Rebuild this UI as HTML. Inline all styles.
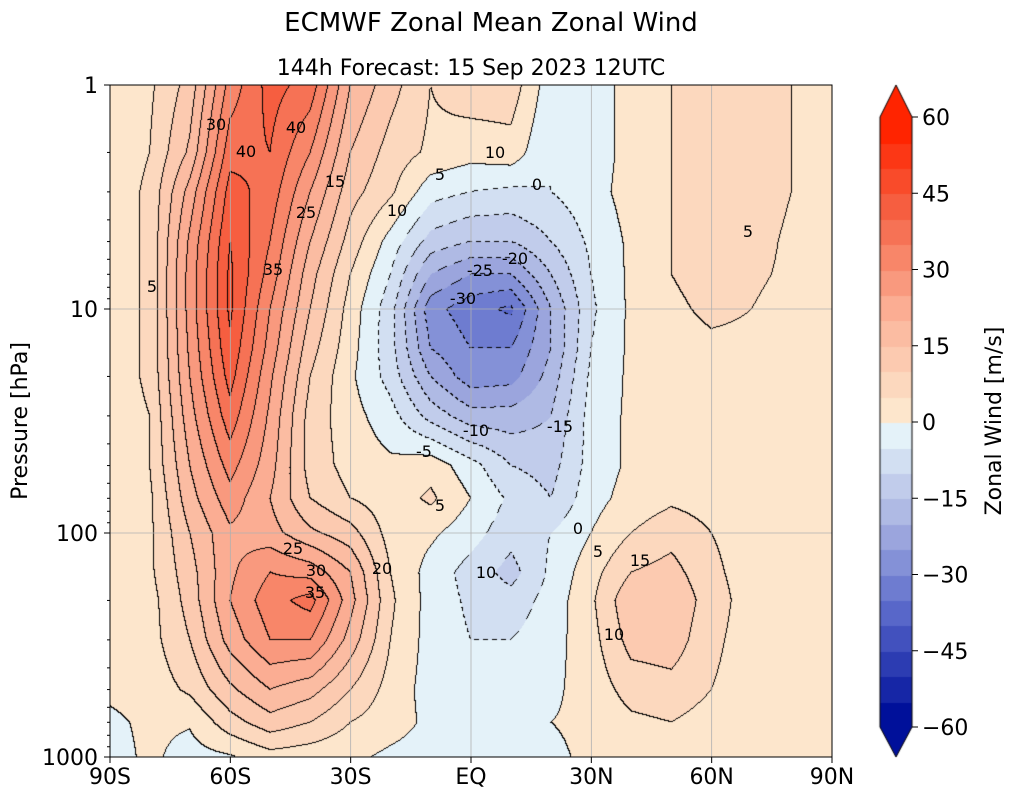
<!DOCTYPE html>
<html><head><meta charset="utf-8">
<style>
body{margin:0;background:#fff;font-family:"DejaVu Sans","Liberation Sans",sans-serif;}
#wrap{position:relative;width:1015px;height:800px;overflow:hidden;}
canvas{position:absolute;left:0;top:0;}
svg{position:absolute;left:0;top:0;font-family:"DejaVu Sans","Liberation Sans",sans-serif;}
</style></head>
<body>
<div id="wrap">
<canvas id="cv" width="1015" height="800"></canvas>
<svg id="sv" width="1015" height="800"></svg>
</div>
<script>
const lats=[-90,-80,-70,-60,-50,-40,-30,-20,-10,0,10,20,30,40,50,60,70,80,90];
const pLevels=[1,2,3,5,7,10,15,20,30,50,70,100,150,200,300,500,700,1000];
const windP1=[2,4,12,32,42,38,20,12,5,8,8,-3,-3,2,5,8,8,5,2];
const windP2=[2,5,16,38,40,30,15,8,4,2,3,-5,-3,2,5,8,8,5,2];
const windP3=[2,6,22,42,38,25,12,6,-3,-5,-6,-5,-2,2,5,8,8,5,2];
const windP5=[2,6,26,45,35,20,8,-2,-12,-15,-15,-10,-4,1,5,8,7,4,2];
const windP7=[2,6,27,46,33,17,5,-5,-20,-25,-25,-15,-5,1,5,7,6,4,2];
const windP10=[2,6,27,46,30,15,3,-8,-28,-33,-36,-20,-6,1,4,6,5,3,2];
const windP15=[2,6,26,44,28,12,2,-8,-25,-30,-30,-20,-5,1,3,4,4,3,2];
const windP20=[2,6,25,42,26,10,1,-7,-20,-28,-27,-18,-4,1,3,3,3,3,2];
const windP30=[2,5,23,38,24,8,2,-3,-12,-18,-18,-15,-3,1,2,2,2,2,1];
const windP50=[2,5,20,32,22,8,3,1,3,-3,-10,-12,-3,1,2,2,2,2,1];
const windP70=[2,4,18,28,20,10,5,2,6,0,-6,-10,-2,2,4,3,2,2,1];
const windP100=[2,4,15,24,22,16,12,3,1,-3,-8,-5,0,5,8,5,3,2,0.5];
const windP150=[2,4,13,24,30,28,20,5,-2,-7,-12,-4,3,10,12,6,3,2,0.5];
const windP200=[1,3,12,25,33,37,22,6,-2,-6,-8,-3,4,14,15,7,3,2,0.5];
const windP300=[1,3,10,22,30,30,18,5,-2,-5,-5,-2,3,12,13,6,3,2,0.5];
const windP500=[1,2,6,14,20,17,10,3,-2,-4,-3,-1,2,7,8,5,3,2,0.5];
const windP700=[-1,1,0.5,8,13,10,5,2,-1,-3,-2,0,1,4,5,3,2,1,0.5];
const windP1000=[-2,1,-2,-0.5,3,2,1,-1,-2,-4,-2,-1,1,1,2,1,1,1,0];
const grid=[windP1,windP2,windP3,windP5,windP7,windP10,windP15,windP20,windP30,windP50,windP70,windP100,windP150,windP200,windP300,windP500,windP700,windP1000];
const xTicks=[-90,-60,-30,0,30,60,90];
const xTickLabels=["90S","60S","30S","EQ","30N","60N","90N"];
const yTicks=[1,10,100,1000];
const cbTicks=[60,45,30,15,0,-15,-30,-45,-60];
const cbTickLabels=["60","45","30","15","0","\u221215","\u221230","\u221245","\u221260"];

const X0=110,X1=832,Y0=85,Y1=757;
const xS=l=>X0+(l+90)/180*(X1-X0);
const yS=p=>Y0+Math.log10(p)/3*(Y1-Y0);
const CBT=117,CBB=727;
const cbY=v=>CBB-(v+60)/120*(CBB-CBT);

function lerpC(a,b,t){return a.map((x,i)=>Math.round(x+(b[i]-x)*t));}
function ramp(stops,t){for(let i=0;i<stops.length-1;i++){if(t<=stops[i+1][0]){const u=(t-stops[i][0])/(stops[i+1][0]-stops[i][0]);return lerpC(stops[i][1],stops[i+1][1],u);}}return stops[stops.length-1][1];}
const posStops=[[0,[253,230,204]],[0.35,[251,176,150]],[0.7,[245,100,70]],[1,[255,36,0]]];
const negStops=[[0,[228,242,249]],[0.3,[170,180,226]],[0.65,[85,100,200]],[1,[0,16,154]]];
function binColor(b){
  if(b>=0){return ramp(posStops,Math.min(b,11)/11);}
  return ramp(negStops,Math.min(-b-1,11)/11);
}
function val(lat,p){
  let fi=(lat+90)/10; fi=Math.max(0,Math.min(17.9999,fi));
  const i=Math.floor(fi),u=fi-i;
  const lp=Math.log10(p);
  let j=0; while(j<pLevels.length-2&&Math.log10(pLevels[j+1])<lp)j++;
  const a=Math.log10(pLevels[j]),b=Math.log10(pLevels[j+1]);
  const v=Math.max(0,Math.min(1,(lp-a)/(b-a)));
  const r0=grid[j],r1=grid[j+1];
  return (r0[i]*(1-u)+r0[i+1]*u)*(1-v)+(r1[i]*(1-u)+r1[i+1]*u)*v;
}
const cv=document.getElementById('cv'),ctx=cv.getContext('2d');
const W=X1-X0,H=Y1-Y0;
const img=ctx.createImageData(W,H);
const bins=new Int16Array(W*H);
for(let y=0;y<H;y++){const p=Math.pow(10,(y+0.5)/H*3);for(let x=0;x<W;x++){const lat=-90+(x+0.5)/W*180;const v=val(lat,p);bins[y*W+x]=Math.floor(v/5);}}
for(let y=0;y<H;y++)for(let x=0;x<W;x++){
  const k=y*W+x,b=bins[k];let c=binColor(b);
  let edge=false;
  if(x<W-1&&bins[k+1]!==b)edge=true;
  if(y<H-1&&bins[k+W]!==b)edge=true;
  if(edge){const lv=Math.max(b,(x<W-1?bins[k+1]:b),(y<H-1?bins[k+W]:b))*5;
    if(lv>=0||((x+y)%9)<5)c=[0,0,0];}
  img.data[k*4]=c[0];img.data[k*4+1]=c[1];img.data[k*4+2]=c[2];img.data[k*4+3]=255;
}
ctx.putImageData(img,X0,Y0);
for(let b=-12;b<12;b++){const c=binColor(b);ctx.fillStyle=`rgb(${c})`;const yt=cbY(b*5+5),yb=cbY(b*5);ctx.fillRect(880,Math.floor(yt),32,Math.ceil(yb-yt)+1);}
ctx.fillStyle='rgb(255,36,0)';ctx.beginPath();ctx.moveTo(880,CBT);ctx.lineTo(896,85);ctx.lineTo(912,CBT);ctx.fill();
ctx.fillStyle='rgb(0,16,154)';ctx.beginPath();ctx.moveTo(880,CBB);ctx.lineTo(896,757);ctx.lineTo(912,CBB);ctx.fill();
ctx.strokeStyle='#000';ctx.lineWidth=1;ctx.beginPath();ctx.moveTo(880,CBT);ctx.lineTo(896,85);ctx.lineTo(912,CBT);ctx.lineTo(912,CBB);ctx.lineTo(896,757);ctx.lineTo(880,CBB);ctx.closePath();ctx.stroke();

const sv=document.getElementById('sv');const NS='http://www.w3.org/2000/svg';
function mk(tag,attrs,txt){const e=document.createElementNS(NS,tag);for(const k in attrs)e.setAttribute(k,attrs[k]);if(txt!==undefined)e.textContent=txt;sv.appendChild(e);return e;}
xTicks.forEach((t,i)=>{const x=xS(t);
 const g=mk('line',{x1:x,x2:x,y1:Y0,y2:Y1,stroke:'#b0b0b0','stroke-width':0.8});
 
 mk('line',{x1:x,x2:x,y1:Y1,y2:Y1+6,stroke:'#000'});
 const tx=mk('text',{x:x,y:784,'font-size':22,'text-anchor':'middle'},xTickLabels[i]);
 
});
yTicks.forEach(t=>{const y=yS(t);
 const g=mk('line',{x1:X0,x2:X1,y1:y,y2:y,stroke:'#b0b0b0','stroke-width':0.8});
 
 mk('line',{x1:X0-6,x2:X0,y1:y,y2:y,stroke:'#000'});
 const tx=mk('text',{x:X0-12,y:y+8,'font-size':22,'text-anchor':'end'},String(t));
 
});
for(let d=0;d<3;d++)for(let m=2;m<10;m++){const y=yS(m*Math.pow(10,d));mk('line',{x1:X0-3,x2:X0,y1:y,y2:y,stroke:'#000'});}
const fr=mk('rect',{x:X0,y:Y0,width:W,height:H,fill:'none',stroke:'#000','stroke-width':1});

cbTicks.forEach((t,i)=>{const y=cbY(t);mk('line',{x1:912,x2:918,y1:y,y2:y,stroke:'#000'});
 const tx=mk('text',{x:922,y:y+8,'font-size':22},cbTickLabels[i]);
 });
let e;
e=mk('text',{x:491,y:31,'font-size':26,'text-anchor':'middle'},'ECMWF Zonal Mean Zonal Wind');
e=mk('text',{x:471,y:75,'font-size':22,'text-anchor':'middle','xml:space':'preserve'},'144h  Forecast:  15 Sep 2023  12UTC');
e=mk('text',{x:27,y:421,'font-size':22,'text-anchor':'middle',transform:'rotate(-90 27 421)'},'Pressure [hPa]');
e=mk('text',{x:1001,y:421,'font-size':22,'text-anchor':'middle',transform:'rotate(-90 1001 421)'},'Zonal Wind [m/s]');
const cl=[[216,130,'30'],[246,157,'40'],[296,133,'40'],[335,187,'15'],[306,218,'25'],[273,275,'35'],[152,292,'5'],[495,158,'10'],[440,180,'5'],[537,190,'0'],[397,216,'10'],[515,264,'-20'],[480,276,'-25'],[463,304,'-30'],[748,237,'5'],[476,436,'-10'],[424,457,'-5'],[560,432,'-15'],[440,511,'5'],[293,554,'25'],[316,576,'30'],[382,574,'20'],[315,598,'35'],[640,566,'15'],[598,557,'5'],[578,534,'0'],[486,578,'10'],[614,640,'10']];
cl.forEach(c=>{const t=mk('text',{x:c[0],y:c[1],'font-size':16,'text-anchor':'middle'},c[2]);});
</script>
</body></html>
